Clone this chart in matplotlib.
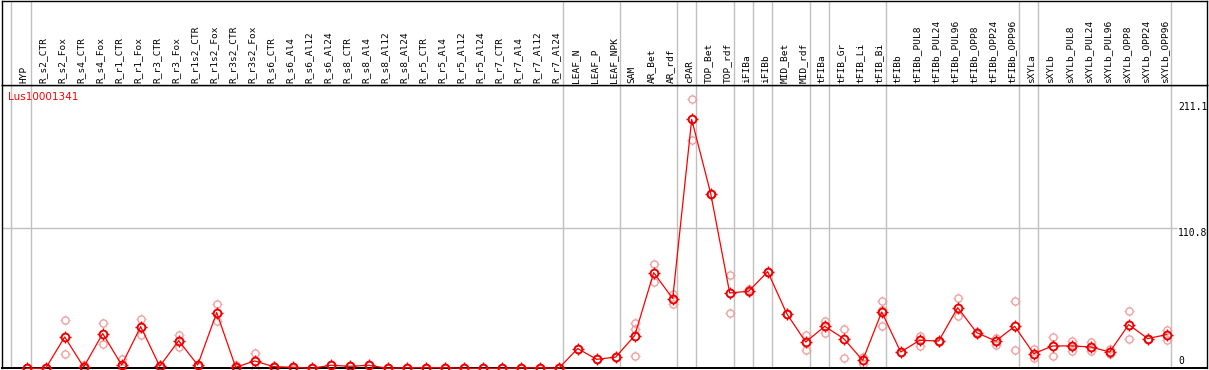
import matplotlib
matplotlib.use("Agg")
import matplotlib.pyplot as plt
from matplotlib.path import Path
import numpy as np

# ---------------- data ----------------
gene = "Lus10001341"
categories = [
    "HYP", "R_s2_CTR", "R_s2_Fox", "R_s4_CTR", "R_s4_Fox", "R_r1_CTR", "R_r1_Fox",
    "R_r3_CTR", "R_r3_Fox", "R_r1s2_CTR", "R_r1s2_Fox", "R_r3s2_CTR", "R_r3s2_Fox",
    "R_s6_CTR", "R_s6_Al4", "R_s6_Al12", "R_s6_Al24", "R_s8_CTR", "R_s8_Al4",
    "R_s8_Al12", "R_s8_Al24", "R_r5_CTR", "R_r5_Al4", "R_r5_Al12", "R_r5_Al24",
    "R_r7_CTR", "R_r7_Al4", "R_r7_Al12", "R_r7_Al24", "LEAF_N", "LEAF_P", "LEAF_NPK",
    "SAM", "AR_Bet", "AR_rdf", "cPAR", "TOP_Bet", "TOP_rdf", "iFIBa", "iFIBb",
    "MID_Bet", "MID_rdf", "tFIBa", "tFIB_Gr", "tFIB_Li", "tFIB_Bi", "tFIBb",
    "tFIBb_PUL8", "tFIBb_PUL24", "tFIBb_PUL96", "tFIBb_OPP8", "tFIBb_OPP24",
    "tFIBb_OPP96", "sXYLa", "sXYLb", "sXYLb_PUL8", "sXYLb_PUL24", "sXYLb_PUL96",
    "sXYLb_OPP8", "sXYLb_OPP24", "sXYLb_OPP96",
]
mean_values = [
    0, 0, 24.8, 1.0, 27.5, 2.6, 33.0, 1.6, 21.9, 2.6, 44.1, 0.8, 5.8, 1.3, 0.8,
    0, 2.4, 1.6, 2.4, 0, 0.5, 0.5, 0.5, 0, 0, 0, 0.3, 0.5, 0, 15.6, 7.1, 8.9,
    25.9, 75.7, 55.2, 197.0, 138.3, 59.6, 61.0, 76.5, 43.3, 20.8, 33.2, 23.5, 6.3,
    44.6, 12.9, 22.2, 21.6, 48.0, 28.2, 21.6, 33.2, 11.6, 17.7, 17.7, 16.9, 12.9,
    34.6, 23.5, 26.7,
]
replicates = [
    [0, 0], [0, 0], [38.0, 11.6], [3.0, 0], [35.6, 19.0], [7.1, 0], [39.3, 26.0],
    [3.0, 0.5], [26.4, 17.0], [3.0, 2.0], [50.6, 37.4], [2.4, 0], [12.1, 0],
    [1.5, 1.0], [1.0, 0.5], [0, 0], [2.4, 2.4], [1.6, 1.6], [2.4, 2.4], [0, 0],
    [0.5, 0.5], [0.5, 0.5], [0.5, 0.5], [0, 0], [0, 0], [0, 0], [0.3, 0.3],
    [0.5, 0.5], [0, 0], [15.6], [7.1], [8.9], [35.9, 31.0, 9.5], [82.9, 68.6],
    [59.0, 50.7], [213.5, 181.0], [138.3, 138.3], [74.1, 44.0], [62.5, 60.0],
    [76.5, 76.5], [43.3, 43.3], [26.1, 14.8], [37.2, 27.9], [31.4, 8.5],
    [9.0, 3.7], [53.0, 46.0, 33.8], [12.9], [25.6, 17.4], [22.0, 21.2],
    [56.0, 41.2], [29.0, 27.4], [24.3, 18.7], [53.0, 14.2], [15.0, 8.2],
    [24.8, 9.7], [21.6, 13.7], [21.0, 13.7], [15.0, 11.6], [45.7, 23.5],
    [23.5, 23.5], [30.0, 22.7],
]
group_after = [-1.05, 0, 28, 31, 34, 35, 37, 38, 39, 41, 42, 45, 52, 53, 60]
ytick_values = [0, 110.8, 211.1]
ymax = 224.2

# ---------------- layout ----------------
W, H = 1209, 370
fig = plt.figure(figsize=(W / 100, H / 100), dpi=100)

x0_px, step_px = 26.7, 19.0
left_px, right_px = 2, 1207
top_px, bottom_px = 85, 368.3
xl = ((left_px - x0_px) / step_px, (right_px - x0_px) / step_px)

ax = fig.add_axes([left_px / W, (H - bottom_px) / H,
                   (right_px - left_px) / W, (bottom_px - top_px) / H])
hx = fig.add_axes([left_px / W, (H - top_px) / H,
                   (right_px - left_px) / W, (top_px - 0.5) / H])

for a in (ax, hx):
    a.set_xlim(*xl)
    a.set_xticks([])
    a.set_yticks([])
    for s in a.spines.values():
        s.set_color("black")
        s.set_linewidth(1.0)
ax.set_ylim(0, ymax)
hx.set_ylim(top_px, 0)
ax.spines["bottom"].set_linewidth(1.4)

# group separator lines
for g in group_after:
    xv = g + 0.2
    ax.axvline(xv, color="#c0c0c0", lw=1.0, zorder=0)
    hx.axvline(xv, color="#c0c0c0", lw=1.0, zorder=0)

# horizontal grid line at middle tick
x_lab = (1178 - x0_px) / step_px
ax.hlines(ytick_values[1], xl[0], x_lab - 0.05, color="#c0c0c0", lw=1.0, zorder=0)

mono = "DejaVu Sans Mono"
# y tick labels (inside right)
ax.text(x_lab, ytick_values[2], "211.1", ha="left", va="top", fontsize=7,
        family=mono, clip_on=True)
ax.text(x_lab, ytick_values[1], "110.8", ha="left", va="top", fontsize=7,
        family=mono, clip_on=True)
ax.text(x_lab, 1.5, "0", ha="left", va="bottom", fontsize=7, family=mono,
        clip_on=True)

# category labels
for i, c in enumerate(categories):
    hx.text(i - 0.13, 83, c, rotation=90, ha="center", va="bottom",
            fontsize=6.8, family=mono, color="black")

# title
ax.text((8 - x0_px) / step_px, (bottom_px - 97) / 1.2635, gene, color="red",
        fontsize=7.5, ha="left", va="center")

# tick-only marker (four short spokes outside the circle)
ticks_v, ticks_c = [], []
for dx, dy in [(0, 1), (0, -1), (1, 0), (-1, 0)]:
    ticks_v += [(dx * 0.69, dy * 0.69), (dx * 1.0, dy * 1.0)]
    ticks_c += [Path.MOVETO, Path.LINETO]
tick_path = Path(ticks_v, ticks_c)

xs = np.arange(len(categories))
rep_col = "#f0a0a0"
# replicates
for i, reps in enumerate(replicates):
    ax.plot([i] * len(reps), reps, linestyle="none", marker="o",
            markersize=5.2, markerfacecolor="none", markeredgecolor=rep_col,
            markeredgewidth=1.0, clip_on=False, zorder=2)
    ax.plot([i] * len(reps), reps, linestyle="none", marker=tick_path,
            markersize=7.6, markeredgecolor=rep_col,
            markeredgewidth=0.9, clip_on=False, zorder=2)

# mean line
ax.plot(xs, mean_values, color="red", lw=0.9, zorder=3, clip_on=False)
ax.plot(xs, mean_values, linestyle="none", marker="o", markersize=5.6,
        markerfacecolor="none", markeredgecolor="#ee0000", markeredgewidth=1.4,
        clip_on=False, zorder=4)
ax.plot(xs, mean_values, linestyle="none", marker=tick_path, markersize=8.2,
        markeredgecolor="#ee0000", markeredgewidth=1.0,
        clip_on=False, zorder=4)

fig.savefig("out.png", dpi=100)
